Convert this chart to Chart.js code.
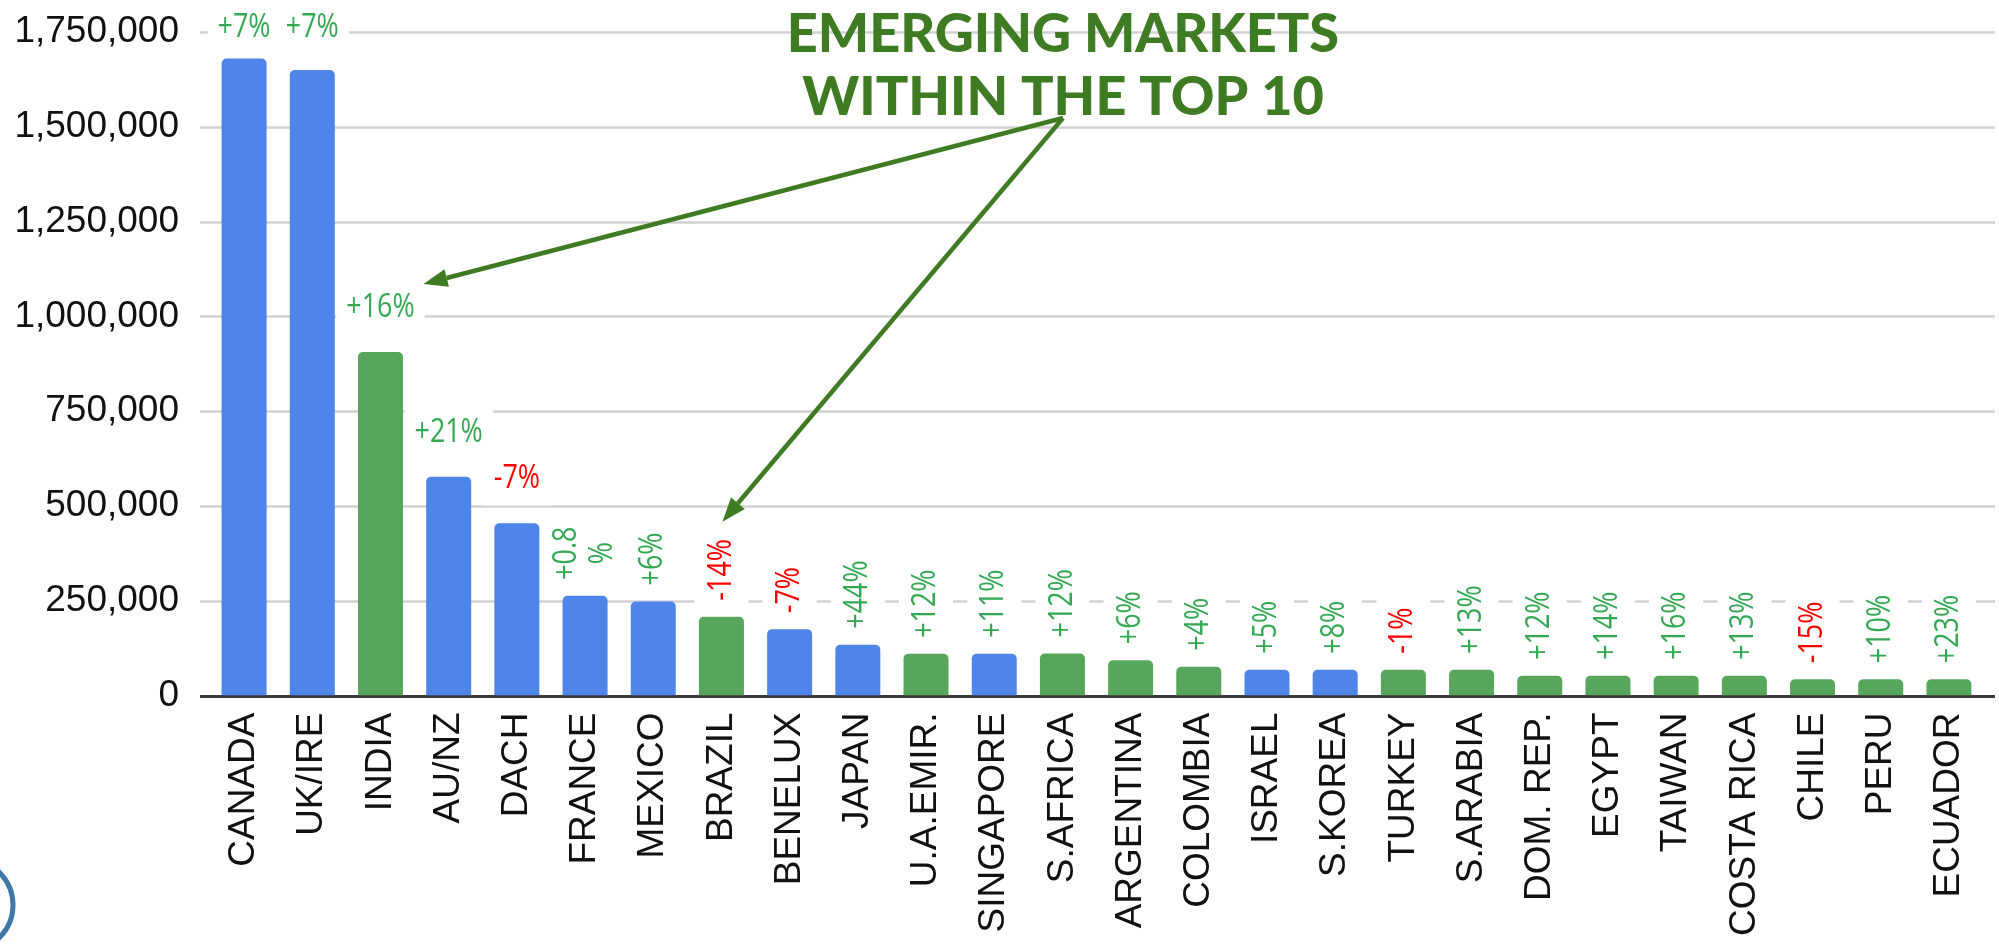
<!DOCTYPE html>
<html>
<head>
<meta charset="utf-8">
<script src="https://cdn.jsdelivr.net/npm/chart.js@4/dist/chart.umd.min.js"></script>
<style>
  body { margin: 0; background: #fff; }
  canvas { display: block; }
</style>
</head>
<body>
<canvas id="marketChart" width="1999" height="944"></canvas>
<script>
// Data

const markets = ['CANADA', 'UK/IRE', 'INDIA', 'AU/NZ', 'DACH', 'FRANCE', 'MEXICO', 'BRAZIL', 'BENELUX', 'JAPAN',
    'U.A.EMIR.', 'SINGAPORE', 'S.AFRICA', 'ARGENTINA', 'COLOMBIA', 'ISRAEL', 'S.KOREA', 'TURKEY', 'S.ARABIA',
    'DOM. REP.', 'EGYPT', 'TAIWAN', 'COSTA RICA', 'CHILE', 'PERU', 'ECUADOR'];

const visitors = [1680000, 1650000, 906000, 577000, 454000, 263000, 248000, 208000, 175000, 134000,
    110000, 110000, 111000, 93000, 76000, 68000, 68000, 68000, 68000,
    52000, 52000, 52000, 52000, 43000, 43000, 43000];

const changes = ['+7%', '+7%', '+16%', '+21%', '-7%', '+0.8\n%', '+6%', '-14%', '-7%', '+44%',
    '+12%', '+11%', '+12%', '+6%', '+4%', '+5%', '+8%', '-1%', '+13%',
    '+12%', '+14%', '+16%', '+13%', '-15%', '+10%', '+23%'];

const emerging = [false, false, true, false, false, false, false, true, false, false,
    true, false, true, true, true, false, false, true, true,
    true, true, true, true, true, true, true];

const yTicks = [0, 250000, 500000, 750000, 1000000, 1250000, 1500000, 1750000];

const titleLines = ['EMERGING MARKETS', 'WITHIN THE TOP 10'];
const arrowTargets = ['INDIA', 'BRAZIL'];

// Colours
const BLUE = '#4f84e8';
const GREEN = '#58a65b';
const UP = '#34a853';
const DOWN = '#ff0000';
const DARK_GREEN = '#3e7b22';
const AXIS_FONT = 'Liberation Sans, Arial, sans-serif';
const LABEL_FONT = '32px "Open Sans", sans-serif';
const SQUEEZE = 0.84; // label glyphs are narrow in the original

// grid lines run a little past the bars on both sides
const gridPlugin = {
    id: 'gridLines',
    beforeDatasetsDraw(chart) {
        const ctx = chart.ctx;
        const y = chart.scales.y;
        const left = chart.chartArea.left - 10;
        const right = chart.chartArea.right + 12;
        ctx.save();
        yTicks.forEach(v => {
            const py = Math.round(y.getPixelForValue(v)) + 0.5;
            ctx.beginPath();
            ctx.moveTo(left, py);
            ctx.lineTo(right, py);
            if (v === 0) {
                ctx.strokeStyle = '#3a3a3a';
                ctx.lineWidth = 3;
            } else {
                ctx.strokeStyle = '#d2d2d2';
                ctx.lineWidth = 2.5;
            }
            ctx.stroke();
        });
        ctx.restore();
    }
};

// percentage change labels with white boxes behind them
const changePlugin = {
    id: 'changeLabels',
    afterDatasetsDraw(chart) {
        const ctx = chart.ctx;
        const meta = chart.getDatasetMeta(0);
        const lineH = 36;
        ctx.save();
        ctx.font = LABEL_FONT;
        const items = meta.data.map((bar, i) => {
            const lines = changes[i].split('\n');
            const w = Math.max(...lines.map(l => ctx.measureText(l).width)) * SQUEEZE;
            return { bar, lines, w, flat: i < 5, color: changes[i].startsWith('-') ? DOWN : UP };
        });

        // boxes first
        ctx.fillStyle = '#ffffff';
        items.forEach(it => {
            if (it.flat) {
                const cy = Math.max(it.bar.y - 44, chart.chartArea.top - 4);
                ctx.fillRect(it.bar.x - it.w / 2 - 10, cy - 26, it.w + 20, 52);
            } else {
                const across = it.lines.length * lineH / 2 + 9;
                const base = it.bar.y - 16;
                ctx.fillRect(it.bar.x - across, base - it.w - 10, across * 2, it.w + 16);
            }
        });

        items.forEach(it => {
            ctx.fillStyle = it.color;
            ctx.textBaseline = 'middle';
            ctx.textAlign = 'center';
            ctx.save();
            if (it.flat) {
                const cy = Math.max(it.bar.y - 44, chart.chartArea.top - 4);
                ctx.translate(it.bar.x, cy);
                ctx.scale(SQUEEZE, 1);
                ctx.fillText(it.lines[0], 0, 0);
            } else {
                ctx.translate(it.bar.x, it.bar.y - 16);
                ctx.rotate(-Math.PI / 2);
                ctx.scale(SQUEEZE, 1);
                it.lines.forEach((l, k) => {
                    const off = (k - (it.lines.length - 1) / 2) * lineH;
                    ctx.fillText(l, it.w / 2 / SQUEEZE, off);
                });
            }
            ctx.restore();
        });
        ctx.restore();
    }
};

function drawArrow(ctx, x0, y0, x1, y1) {
    const ang = Math.atan2(y1 - y0, x1 - x0);
    const len = 24, half = 9;
    const bx = x1 - Math.cos(ang) * len;
    const by = y1 - Math.sin(ang) * len;
    ctx.beginPath();
    ctx.moveTo(x0, y0);
    ctx.lineTo(bx, by);
    ctx.stroke();
    ctx.beginPath();
    ctx.moveTo(x1, y1);
    ctx.lineTo(bx + Math.sin(ang) * half, by - Math.cos(ang) * half);
    ctx.lineTo(bx - Math.sin(ang) * half, by + Math.cos(ang) * half);
    ctx.closePath();
    ctx.fill();
}

// title, arrows, and the ring in the corner
const notePlugin = {
    id: 'note',
    afterDraw(chart) {
        const ctx = chart.ctx;
        const meta = chart.getDatasetMeta(0);
        const titleX = 1063;
        ctx.save();
        ctx.fillStyle = DARK_GREEN;
        ctx.font = '900 54px Lato, sans-serif';
        ctx.textAlign = 'center';
        ctx.textBaseline = 'alphabetic';
        ctx.fillText(titleLines[0], titleX, 52);
        ctx.fillText(titleLines[1], titleX, 115);

        ctx.strokeStyle = DARK_GREEN;
        ctx.lineWidth = 4.5;
        const india = meta.data[markets.indexOf(arrowTargets[0])];
        const brazil = meta.data[markets.indexOf(arrowTargets[1])];
        drawArrow(ctx, titleX, 118, india.x + 43, india.y - 68);
        drawArrow(ctx, titleX, 118, brazil.x + 1, brazil.y - 95);

        ctx.beginPath();
        ctx.strokeStyle = '#3f77a6';
        ctx.lineWidth = 5;
        ctx.arc(-33, 905, 46, 0, Math.PI * 2);
        ctx.stroke();
        ctx.restore();
    }
};

const ctx = document.getElementById('marketChart').getContext('2d');
const marketChart = new Chart(ctx, {
    type: 'bar',
    data: {
        labels: markets,
        datasets: [{
            data: visitors,
            backgroundColor: emerging.map(e => e ? GREEN : BLUE),
            borderRadius: 5,
            barPercentage: 0.66,
            categoryPercentage: 1
        }]
    },
    options: {
        responsive: false,
        animation: false,
        devicePixelRatio: 1,
        layout: { padding: { top: 32, right: 16, bottom: 0, left: 0 } },
        plugins: {
            legend: { display: false },
            tooltip: { enabled: false }
        },
        scales: {
            x: {
                grid: { display: false, drawTicks: false },
                border: { display: false },
                ticks: {
                    autoSkip: false,
                    minRotation: 90,
                    maxRotation: 90,
                    padding: 17,
                    color: '#111',
                    font: { family: AXIS_FONT, size: 37 }
                },
                afterFit(scale) {
                    scale.height = 248.5;
                    scale.paddingLeft = 0;
                    scale.paddingRight = 0;
                }
            },
            y: {
                min: 0,
                max: 1750000,
                afterBuildTicks(scale) { scale.ticks = yTicks.map(v => ({ value: v })); },
                grid: { display: false, drawTicks: false },
                border: { display: false },
                ticks: {
                    padding: 31,
                    color: '#111',
                    font: { family: AXIS_FONT, size: 37 },
                    callback: v => v.toLocaleString('en-US')
                },
                afterFit(scale) {
                    scale.width = 210;
                    scale.paddingTop = 0;
                    scale.paddingBottom = 0;
                }
            }
        }
    },
    plugins: [gridPlugin, changePlugin, notePlugin]
});
</script>
</body>
</html>
